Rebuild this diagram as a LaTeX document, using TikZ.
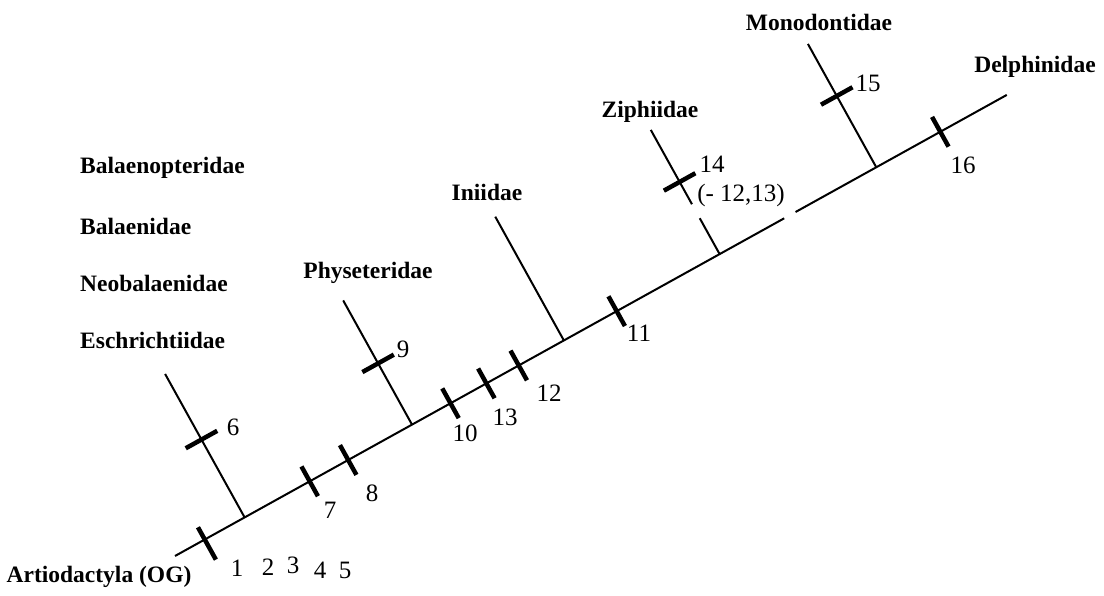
\documentclass[tikz,border=0pt]{standalone}
\usepackage{fontspec}
\setmainfont{Liberation Serif}
\usetikzlibrary{calc}
\begin{document}
\begin{tikzpicture}[x=1pt,y=1pt,
  branch/.style={line width=2pt},
  tickmark/.style={line width=4.5pt},
  taxon/.style={font=\fontsize{23.5}{25}\selectfont\bfseries, inner sep=0pt},
  num/.style={font=\fontsize{25}{27}\selectfont, inner sep=0pt}]
\useasboundingbox (0,0) rectangle (1104,595);
\begin{scope}[shift={(175,39)}, rotate=29]
  % main axis
  \coordinate (o) at (0,0);
  \coordinate (g1) at (696.5,0);
  \coordinate (g2) at (709.5,0);
  \coordinate (e) at (951,0);
  \draw[branch] (o) -- (g1);
  \draw[branch] (g2) -- (e);
  % side branches
  \coordinate (j6) at (79.6,0);  \coordinate (t6) at (79.6,164);
  \coordinate (j9) at (271,0);   \coordinate (t9) at (271,142);
  \coordinate (jI) at (444.6,0); \coordinate (tI) at (444.6,141.5);
  \coordinate (jZ) at (622.7,0); \coordinate (zg1) at (622.7,41);
  \coordinate (zg2) at (622.7,57); \coordinate (tZ) at (622.7,142);
  \coordinate (jM) at (801.8,0); \coordinate (tM) at (801.8,141);
  \draw[branch] (j6) -- (t6);
  \draw[branch] (j9) -- (t9);
  \draw[branch] (jI) -- (tI);
  \draw[branch] (jZ) -- (zg1);
  \draw[branch] (zg2) -- (tZ);
  \draw[branch] (jM) -- (tM);
  % ticks on main axis
  \coordinate (m1a) at (34,14); \coordinate (m1b) at (34,-23);
  \draw[tickmark] (m1a) -- (m1b);
  \foreach \n/\x in {7/154,8/198,10/315,13/356,12/393,11/505,16/875}{
    \coordinate (m\n a) at (\x,17);
    \coordinate (m\n b) at (\x,-17);
    \draw[tickmark] (m\n a) -- (m\n b);
  }
  % ticks on branches
  \foreach \n/\x/\y in {6/79.6/89,9/271/70,14/622.7/82.5,15/801.8/81.5}{
    \coordinate (b\n a) at ({\x-18},\y);
    \coordinate (b\n b) at ({\x+18},\y);
    \draw[tickmark] (b\n a) -- (b\n b);
  }
\end{scope}
% taxon labels
\node[taxon, anchor=west] (balaenopteridae) at (80,427) {Balaenopteridae};
\node[taxon, anchor=west] (balaenidae) at (80,369) {Balaenidae};
\node[taxon, anchor=west] (neobalaenidae) at (80,312) {Neobalaenidae};
\node[taxon, anchor=west] (eschrichtiidae) at (80,255) {Eschrichtiidae};
\node[taxon] (physeteridae) at (368,322) {Physeteridae};
\node[taxon] (iniidae) at (487,403) {Iniidae};
\node[taxon] (ziphiidae) at (650,483) {Ziphiidae};
\node[taxon] (monodontidae) at (819,573) {Monodontidae};
\node[taxon] (delphinidae) at (1035,528) {Delphinidae};
\node[taxon] (artiodactyla) at (99,18) {Artiodactyla (OG)};
% character numbers
\node[num] (n1) at (237,27) {1};
\node[num] (n2) at (268,28) {2};
\node[num] (n3) at (293,30) {3};
\node[num] (n4) at (320,25) {4};
\node[num] (n5) at (345,25) {5};
\node[num] (n6) at (233,168) {6};
\node[num] (n7) at (330,85) {7};
\node[num] (n8) at (372,102) {8};
\node[num] (n9) at (403,246) {9};
\node[num] (n10) at (465,162) {10};
\node[num] (n13) at (505,178) {13};
\node[num] (n12) at (549,202) {12};
\node[num] (n11) at (639,262) {11};
\node[num] (n14) at (712,431) {14};
\node[num] (n1213) at (741,400) {(- 12,13)};
\node[num] (n15) at (868,512) {15};
\node[num] (n16) at (963,430) {16};
\end{tikzpicture}
\end{document}
